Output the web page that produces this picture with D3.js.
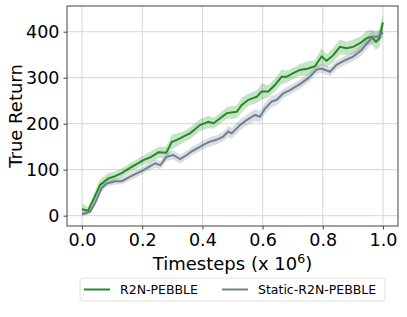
<!DOCTYPE html>
<html><head><meta charset="utf-8">
<script src="https://cdn.jsdelivr.net/npm/d3@7"></script>
<style>body{margin:0;background:#fff}svg{display:block;font-family:"DejaVu Sans",sans-serif}</style>
</head><body><svg id="c" width="407" height="317"></svg>
<script>
const xTicks = [0, 0.2, 0.4, 0.6, 0.8, 1.0];
const yTicks = [0, 100, 200, 300, 400];
const seriesNames = ["R2N-PEBBLE", "Static-R2N-PEBBLE"];

const greenT = [0,0.02,0.04,0.06,0.087,0.11,0.13,0.165,0.204,0.23,0.254,0.28,0.298,0.326,0.346,0.359,0.392,0.42,0.437,0.459,0.481,0.514,0.531,0.553,0.581,0.597,0.619,0.641,0.663,0.68,0.702,0.724,0.752,0.774,0.796,0.813,0.835,0.857,0.879,0.901,0.924,0.946,0.962,0.977,0.988,1.0];
const greenV = [14,11,38,67,81,86,92,106,121,128,138,137,160,168,175,179,197,204,201,212,223,226,241,252,259,270,270,284,302,302,310,317,320,325,346,337,349,367,364,367,375,386,389,378,386,420];
const greenBand = [12,8,10,13,12,10,10,10,10,12,12,13,16,13,12,13,13,14,12,12,13,14,16,13,14,18,13,14,16,13,12,13,16,13,18,14,16,16,14,16,14,16,16,18,20,20];

const grayT = [0,0.027,0.043,0.065,0.082,0.11,0.132,0.16,0.204,0.243,0.26,0.281,0.303,0.326,0.348,0.362,0.403,0.425,0.447,0.469,0.486,0.497,0.525,0.547,0.575,0.591,0.608,0.63,0.647,0.669,0.691,0.724,0.752,0.779,0.796,0.824,0.846,0.874,0.901,0.929,0.951,0.966,0.982,1.0];
const grayV = [3,9,27,60,70,75,75,85,99,114,110,128,132,123,132,139,154,161,165,172,183,179,197,208,219,215,233,248,252,266,273,286,299,317,320,313,328,338,346,360,378,389,389,398];
const grayBand = [5,5,6,8,7,7,7,8,8,9,9,9,10,10,9,9,10,10,10,10,12,12,12,12,13,13,12,12,12,10,10,10,10,10,10,10,10,10,10,12,13,14,13,10];

const colors = ["#228B22", "#708090"];

const svg = d3.select("#c");
const L = 67, R = 398, T = 6, B = 226;
const x = d3.scaleLinear().domain([-0.05, 1.05]).range([L, R]);
const y = d3.scaleLinear().domain([-22.4, 455.9]).range([B, T]);

// grid
svg.append("g").selectAll("line").data(xTicks).join("line")
  .attr("x1", d => x(d)).attr("x2", d => x(d)).attr("y1", T).attr("y2", B)
  .attr("stroke", "#d6d6d6").attr("stroke-width", 1);
svg.append("g").selectAll("line").data(yTicks).join("line")
  .attr("x1", L).attr("x2", R).attr("y1", d => y(d)).attr("y2", d => y(d))
  .attr("stroke", "#d6d6d6").attr("stroke-width", 1);

const series = [
  {t: greenT, v: greenV, b: greenBand, c: colors[0]},
  {t: grayT, v: grayV, b: grayBand, c: colors[1]}
];
series.forEach(s => {
  const pts = s.t.map((t, i) => ({t, v: s.v[i], b: s.b[i]}));
  svg.append("path").datum(pts)
    .attr("d", d3.area().x(d => x(d.t)).y0(d => y(d.v - d.b)).y1(d => y(d.v + d.b)))
    .attr("fill", s.c).attr("fill-opacity", 0.25);
});
series.forEach(s => {
  const pts = s.t.map((t, i) => ({t, v: s.v[i]}));
  svg.append("path").datum(pts)
    .attr("d", d3.line().x(d => x(d.t)).y(d => y(d.v)))
    .attr("fill", "none").attr("stroke", s.c).attr("stroke-width", 2);
});

// axes
const xa = svg.append("g").attr("transform", `translate(0,${B})`)
  .call(d3.axisBottom(x).tickValues(xTicks).tickFormat(d3.format(".1f")).tickSize(3.5).tickPadding(4));
const ya = svg.append("g").attr("transform", `translate(${L},0)`)
  .call(d3.axisLeft(y).tickValues(yTicks).tickSize(3.5).tickPadding(4));
[xa, ya].forEach(a => {
  a.select(".domain").remove();
  a.selectAll("text").attr("font-size", 17.5).attr("fill", "#000").attr("font-family", "DejaVu Sans");
  a.selectAll("line").attr("stroke", "#444");
});
svg.append("rect").attr("x", L).attr("y", T).attr("width", R - L).attr("height", B - T)
  .attr("fill", "none").attr("stroke", "#444").attr("stroke-width", 1);

// labels
const xl = svg.append("text").attr("x", (L + R) / 2).attr("y", 270).attr("text-anchor", "middle")
  .attr("font-size", 18);
xl.append("tspan").text("Timesteps (x 10");
xl.append("tspan").text("6").attr("font-size", 12.5).attr("dy", -7);
xl.append("tspan").text(")").attr("dy", 7);
svg.append("text").attr("transform", `translate(22,${(T + B) / 2}) rotate(-90)`)
  .attr("text-anchor", "middle").attr("font-size", 18).text("True Return");

// legend
svg.append("rect").attr("x", 80).attr("y", 278).attr("width", 305).attr("height", 23)
  .attr("rx", 3).attr("fill", "#fff").attr("stroke", "#e0e0e0");
const lx = [84, 222];
seriesNames.forEach((n, i) => {
  svg.append("line").attr("x1", lx[i]).attr("x2", lx[i] + 26).attr("y1", 289.5).attr("y2", 289.5)
    .attr("stroke", colors[i]).attr("stroke-width", 2);
  svg.append("text").attr("x", lx[i] + 36).attr("y", 294).attr("font-size", 12.5).text(n);
});
</script></body></html>
